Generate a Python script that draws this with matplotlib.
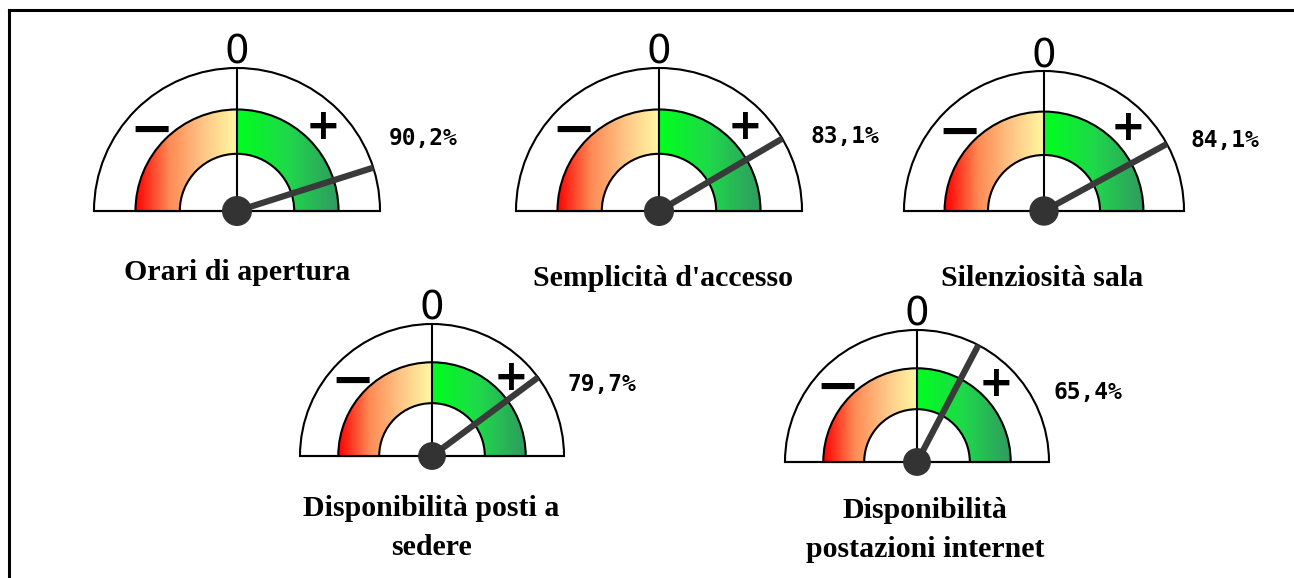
import matplotlib.pyplot as plt
import numpy as np
from matplotlib.patches import Wedge, Circle
from matplotlib.colors import LinearSegmentedColormap

W, H = 1294, 578

# survey items and satisfaction scores
labels = ["Orari di apertura", "Semplicità d'accesso", "Silenziosità sala",
          "Disponibilità posti a\nsedere", "Disponibilità\npostazioni internet"]
values = [90.2, 83.1, 84.1, 79.7, 65.4]
value_text = ["90,2%", "83,1%", "84,1%", "79,7%", "65,4%"]

# gauge layout in pixels (x, baseline y, outer radius)
centers = [(237, 211), (659, 211), (1044, 211), (432, 456), (917, 462)]
radii = [143, 143, 140, 132, 132]
pct_pos = [(423, 138), (845, 137), (1225, 140), (602, 385), (1088, 392)]
title_pos = [(237, 273), (663, 278), (1042, 278), (431, 528), (925, 530)]

left_cmap = LinearSegmentedColormap.from_list(
    "neg", ["#ff0000", "#ff8a55", "#ffc585", "#fff8a2"])
right_cmap = LinearSegmentedColormap.from_list(
    "pos", ["#00ff1e", "#1fd84a", "#2f9a60"])

fig = plt.figure(figsize=(W / 100, H / 100), dpi=100)
ax = fig.add_axes([0, 0, 1, 1])
ax.set_xlim(0, W)
ax.set_ylim(0, H)
ax.axis("off")


def py(y):
    return H - y


def draw_gauge(cx, cy, R, val):
    cy = py(cy)
    r_in, r_out = 0.40 * R, 0.71 * R
    # outer white dial
    ax.add_patch(Wedge((cx, cy), R, 0, 180, facecolor="white",
                       edgecolor="black", lw=1.5, zorder=1))
    # coloured band with horizontal gradient
    n = 200
    grad = np.linspace(0, 1, n)
    left = left_cmap(grad)[:, :3]
    right = right_cmap(grad)[:, :3]
    img = np.concatenate([left, right])[None, :, :]
    band = Wedge((cx, cy), r_out, 0, 180, width=r_out - r_in,
                 facecolor="none", edgecolor="black", lw=1.5, zorder=3)
    ax.add_patch(band)
    im = ax.imshow(img, extent=[cx - r_out, cx + r_out, cy, cy + r_out],
                   aspect="auto", interpolation="bilinear", zorder=2)
    im.set_clip_path(band)
    # baseline and zero marker
    ax.plot([cx - R, cx + R], [cy, cy], color="black", lw=1.5, zorder=4)
    ax.plot([cx, cx], [cy, cy + R], color="black", lw=1.5, zorder=4)
    ax.text(cx, cy + R - 4, "0", ha="center", va="bottom", fontsize=28,
            family="DejaVu Sans", zorder=5)
    ax.text(cx - 0.6 * R, cy + 0.56 * R, "\u2212", ha="center", va="center",
            fontsize=38, fontweight="bold", zorder=5)
    ax.text(cx + 0.6 * R, cy + 0.59 * R, "+", ha="center", va="center",
            fontsize=30, fontweight="bold", zorder=5)
    # needle: 50% points straight up, 100% lies flat to the right
    theta = np.radians((val - 50) * 1.8)
    L = 1.0 * R
    ax.plot([cx, cx + L * np.sin(theta)], [cy, cy + L * np.cos(theta)],
            color="#3a3a3a", lw=4.5, solid_capstyle="butt", zorder=6)
    ax.add_patch(Circle((cx, cy), 0.1 * R, color="#333333", zorder=7))


for (cx, cy), R, v in zip(centers, radii, values):
    draw_gauge(cx, cy, R, v)

for (x, y), t in zip(pct_pos, value_text):
    ax.text(x, py(y), t, ha="center", va="center", fontsize=16.5,
            family="DejaVu Sans Mono", fontweight="bold")

for (x, y), t in zip(title_pos, labels):
    ax.text(x, py(y), t, ha="center", va="center", fontsize=21.5,
            family="Liberation Serif", fontweight="bold", linespacing=1.58)

# frame on the top and left edges
ax.plot([9, W], [py(10), py(10)], color="black", lw=2.2, zorder=8)
ax.plot([9, 9], [py(10), 0], color="black", lw=2.2, zorder=8)

fig.savefig("out.png", dpi=100, facecolor="white")
